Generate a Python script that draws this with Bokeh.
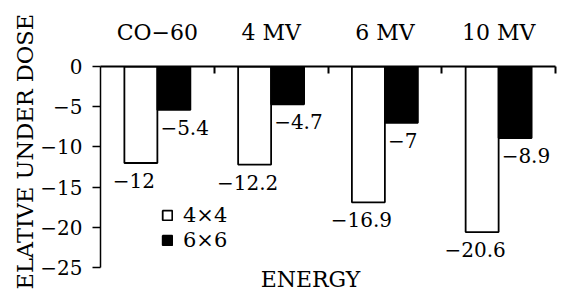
from bokeh.plotting import figure
from bokeh.models import (Range1d, FixedTicker, ColumnDataSource, Legend, LegendItem, Label, Title)
from bokeh.transform import dodge
from bokeh.core.properties import value
from bokeh.embed import file_html
from bokeh.resources import INLINE

categories = ["CO−60", "4 MV", "6 MV", "10 MV"]
field_4x4 = [-12, -12.2, -16.9, -20.6]
field_6x6 = [-5.4, -4.7, -7, -8.9]
y_ticks = [0, -5, -10, -15, -20, -25]
series_names = ["4×4", "6×6"]
x_title = "ENERGY"
y_title = "ELATIVE UNDER DOSE"

def fmt(v):
    return f"{v:g}".replace("-", "−")

centers = [i + 0.5 for i in range(len(categories))]
bounds = [i + 1.0 for i in range(len(categories))]
src = ColumnDataSource(dict(
    x=centers,
    a=field_4x4,
    b=field_6x6,
    la=[fmt(v) for v in field_4x4],
    lb=[fmt(v) for v in field_6x6],
))

FONT = "DejaVu Serif"

p = figure(width=569, height=292, output_backend="svg", toolbar_location=None,
           x_range=Range1d(0, len(categories)), y_range=Range1d(-28.11, 0),
           x_axis_location="above",
           min_border_left=100, min_border_right=14, min_border_top=66, min_border_bottom=0)
p.outline_line_color = None
p.xgrid.visible = False
p.ygrid.visible = False
p.background_fill_color = "white"
p.border_fill_color = "white"

# top axis with category names
xa = p.xaxis[0]
xa.ticker = FixedTicker(ticks=centers, minor_ticks=bounds)
xa.major_label_overrides = {c: n for c, n in zip(centers, categories)}
xa.major_tick_out = 0
xa.major_tick_in = 0
xa.minor_tick_in = 7
xa.minor_tick_out = 0
xa.minor_tick_line_width = 2
xa.minor_tick_line_color = "black"
xa.axis_line_width = 2
xa.axis_line_color = "black"
xa.major_label_text_font = FONT
xa.major_label_text_font_size = "22px"
xa.major_label_text_color = "black"
xa.major_label_standoff = 22

ya = p.yaxis[0]
ya.ticker = FixedTicker(ticks=y_ticks, minor_ticks=[])
ya.bounds = (min(y_ticks), max(y_ticks))
ya.major_label_overrides = {t: fmt(t) for t in y_ticks}
ya.major_tick_out = 8
ya.major_tick_in = 0
ya.major_tick_line_width = 1.5
ya.axis_line_width = 1.5
ya.axis_line_color = "black"
ya.major_tick_line_color = "black"
ya.major_label_text_font = FONT
ya.major_label_text_font_size = "20px"
ya.major_label_text_color = "black"
ya.major_label_standoff = 10
ya.axis_label_standoff = 0

w = 0.29
ra = p.vbar(x=dodge("x", -0.145, range=p.x_range), top=0, bottom="a", width=w, source=src,
            fill_color="white", line_color="black", line_width=1.8)
rb = p.vbar(x=dodge("x", 0.145, range=p.x_range), top=0, bottom="b", width=w, source=src,
            fill_color="black", line_color="black", line_width=1.8)

p.text(x=dodge("x", -0.145, range=p.x_range), y="a", text="la", source=src,
       text_font=value(FONT), text_font_size="20px", text_align="center",
       text_baseline="top", x_offset=-7, y_offset=10, text_color="black")
p.text(x="x", y="b", text="lb", source=src,
       text_font=value(FONT), text_font_size="20px", text_align="left",
       text_baseline="top", x_offset=3, y_offset=10, text_color="black")

legend = Legend(items=[LegendItem(label=series_names[0], renderers=[ra]),
                       LegendItem(label=series_names[1], renderers=[rb])],
                location=(61, 40), orientation="vertical",
                glyph_width=12, glyph_height=12, label_standoff=10,
                spacing=1, padding=0, margin=0,
                label_text_font=FONT, label_text_font_size="21px",
                label_text_color="black",
                label_height=20, border_line_color=None, background_fill_alpha=0)
p.add_layout(legend, "center")

p.add_layout(Label(x=210, y=1, x_units="screen", y_units="screen", text=x_title,
                   text_font=FONT, text_font_size="22px", text_align="center",
                   text_baseline="bottom", text_color="black"))

yt = Title(text=y_title, align="left", offset=3, text_font=FONT,
           text_font_size="22.5px", text_font_style="normal", text_color="black", standoff=0)
p.add_layout(yt, "left")

open("out.html", "w").write(file_html(p, INLINE))
